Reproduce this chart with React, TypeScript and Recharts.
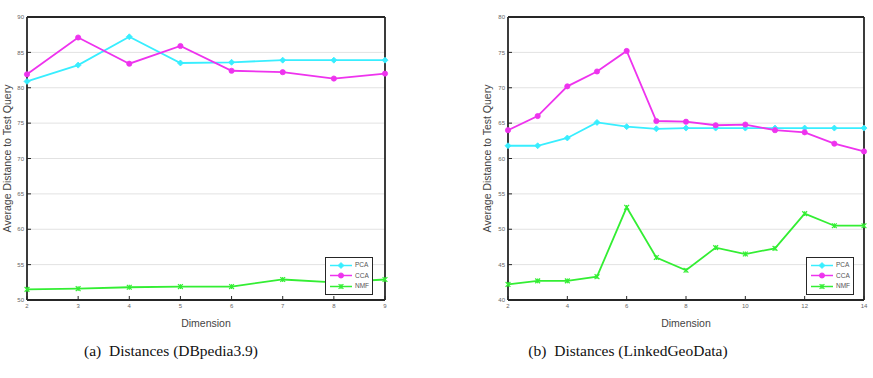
import { CartesianGrid, Legend, Line, LineChart, XAxis, YAxis } from "recharts";

const dimsA = [2, 3, 4, 5, 6, 7, 8, 9];
const pcaA = [80.9, 83.2, 87.2, 83.5, 83.6, 83.9, 83.9, 83.9];
const ccaA = [81.9, 87.1, 83.4, 85.9, 82.4, 82.2, 81.3, 82.0];
const nmfA = [51.5, 51.6, 51.8, 51.9, 51.9, 52.9, 52.5, 52.9];
const xTicksA = [2, 3, 4, 5, 6, 7, 8, 9];
const yTicksA = [50, 55, 60, 65, 70, 75, 80, 85, 90];

const dimsB = [2, 3, 4, 5, 6, 7, 8, 9, 10, 11, 12, 13, 14];
const pcaB = [61.8, 61.8, 62.9, 65.1, 64.5, 64.2, 64.3, 64.3, 64.3, 64.3, 64.3, 64.3, 64.3];
const ccaB = [64.0, 66.0, 70.2, 72.3, 75.2, 65.3, 65.2, 64.7, 64.8, 64.0, 63.7, 62.1, 61.0];
const nmfB = [42.2, 42.7, 42.7, 43.3, 53.1, 46.0, 44.2, 47.4, 46.5, 47.3, 52.2, 50.5, 50.5];
const xTicksB = [2, 4, 6, 8, 10, 12, 14];
const yTicksB = [40, 45, 50, 55, 60, 65, 70, 75, 80];

const seriesNames = ["PCA", "CCA", "NMF"];
const colors: Record<string, string> = { PCA: "#38eeff", CCA: "#ee33ee", NMF: "#33ee33" };

const AXIS = "#262626";
const SANS = "'Liberation Sans', Arial, sans-serif";
const TICK_FONT = { fill: "#666", fontSize: 6, fontFamily: SANS };

function Marker({ name, cx, cy }: { name: string; cx: number; cy: number }) {
  const c = colors[name];
  if (name === "PCA") {
    const r = 3;
    return <path d={`M${cx},${cy - r}L${cx + r},${cy}L${cx},${cy + r}L${cx - r},${cy}Z`} fill={c} stroke={c} strokeWidth={0.8} />;
  }
  if (name === "CCA") {
    return <circle cx={cx} cy={cy} r={2.6} fill={c} stroke={c} strokeWidth={0.8} />;
  }
  const r = 2.4;
  return (
    <g stroke={c} strokeWidth={1.2}>
      <line x1={cx - r} y1={cy - r} x2={cx + r} y2={cy + r} />
      <line x1={cx - r} y1={cy + r} x2={cx + r} y2={cy - r} />
      <line x1={cx} y1={cy - r} x2={cx} y2={cy + r} />
    </g>
  );
}

function LegendBox() {
  return (
    <div
      style={{
        border: `1.5px solid ${AXIS}`,
        background: "#fff",
        padding: "2px 3px",
        fontFamily: SANS,
        fontSize: 6.5,
        color: "#555",
        lineHeight: "10.5px",
      }}
    >
      {seriesNames.map((n) => (
        <div key={n} style={{ display: "flex", alignItems: "center" }}>
          <svg width={24} height={9} style={{ marginRight: 2 }}>
            <line x1={1} y1={4.5} x2={23} y2={4.5} stroke={colors[n]} strokeWidth={1.5} />
            <Marker name={n} cx={12} cy={4.5} />
          </svg>
          {n}
        </div>
      ))}
    </div>
  );
}

function YLabel(props: any) {
  const vb = props.viewBox;
  const x = props.labelX;
  const y = vb.y + vb.height / 2;
  return (
    <text
      x={x}
      y={y}
      transform={`rotate(-90 ${x} ${y})`}
      textAnchor="middle"
      dominantBaseline="central"
      fill="#444"
      fontSize={10.5}
      fontFamily={SANS}
    >
      Average Distance to Test Query
    </text>
  );
}

function XLabel(props: any) {
  const vb = props.viewBox;
  return (
    <text
      x={vb.x + vb.width / 2}
      y={323}
      textAnchor="middle"
      dominantBaseline="central"
      fill="#444"
      fontSize={10.5}
      fontFamily={SANS}
    >
      Dimension
    </text>
  );
}

function Panel({
  dims,
  pca,
  cca,
  nmf,
  xTicks,
  yTicks,
  width,
  yAxisWidth,
  rightMargin,
  labelX,
  legendLeft,
}: {
  dims: number[];
  pca: number[];
  cca: number[];
  nmf: number[];
  xTicks: number[];
  yTicks: number[];
  width: number;
  yAxisWidth: number;
  rightMargin: number;
  labelX: number;
  legendLeft: number;
}) {
  const data = dims.map((d, i) => ({ dim: d, PCA: pca[i], CCA: cca[i], NMF: nmf[i] }));
  const xDomain = [xTicks[0], xTicks[xTicks.length - 1]];
  const yDomain = [yTicks[0], yTicks[yTicks.length - 1]];
  const axisLine = { stroke: AXIS, strokeWidth: 1.8 };
  return (
    <LineChart width={width} height={330} data={data} margin={{ top: 16, right: rightMargin, bottom: 0, left: 0 }}>
      <CartesianGrid vertical={false} stroke="#e2e2e2" strokeWidth={1} />
      <XAxis
        dataKey="dim"
        type="number"
        domain={xDomain}
        ticks={xTicks}
        height={30}
        axisLine={axisLine}
        tickLine={{ stroke: AXIS }}
        tickSize={-4}
        tickMargin={8}
        tick={TICK_FONT}
        label={<XLabel />}
      />
      <XAxis
        xAxisId="top"
        orientation="top"
        dataKey="dim"
        type="number"
        domain={xDomain}
        ticks={xTicks}
        height={1}
        axisLine={axisLine}
        tickLine={{ stroke: AXIS }}
        tickSize={-4}
        tick={false}
      />
      <YAxis
        type="number"
        domain={yDomain}
        ticks={yTicks}
        width={yAxisWidth}
        axisLine={axisLine}
        tickLine={{ stroke: AXIS }}
        tickSize={-4}
        tickMargin={7}
        tick={TICK_FONT}
        label={<YLabel labelX={labelX} />}
      />
      <YAxis
        yAxisId="right"
        orientation="right"
        type="number"
        domain={yDomain}
        ticks={yTicks}
        width={1}
        axisLine={axisLine}
        tickLine={{ stroke: AXIS }}
        tickSize={-4}
        tick={false}
      />
      <Legend
        layout="vertical"
        align="center"
        verticalAlign="middle"
        content={<LegendBox />}
        wrapperStyle={{ left: legendLeft, top: 257, right: "auto", bottom: "auto", width: "auto" }}
      />
      {seriesNames.map((n) => (
        <Line
          key={n}
          dataKey={n}
          stroke={colors[n]}
          strokeWidth={1.8}
          isAnimationActive={false}
          dot={(p: any) => <Marker key={`${n}-${p.index}`} name={n} cx={p.cx} cy={p.cy} />}
          activeDot={false}
        />
      ))}
    </LineChart>
  );
}

const captionStyle: React.CSSProperties = {
  position: "absolute",
  top: 342,
  fontFamily: "'Liberation Serif', 'DejaVu Serif', serif",
  fontSize: 15.5,
  color: "#111",
  whiteSpace: "nowrap",
  transform: "translateX(-50%)",
};

export default function App() {
  return (
    <div style={{ position: "absolute", left: 0, top: 0, width: 873, height: 378, background: "#fff", overflow: "hidden" }}>
      <div style={{ position: "absolute", left: 0, top: 0 }}>
        <Panel
          dims={dimsA}
          pca={pcaA}
          cca={ccaA}
          nmf={nmfA}
          xTicks={xTicksA}
          yTicks={yTicksA}
          width={440}
          yAxisWidth={27}
          rightMargin={54}
          labelX={7}
          legendLeft={325}
        />
      </div>
      <div style={{ position: "absolute", left: 470, top: 0 }}>
        <Panel
          dims={dimsB}
          pca={pcaB}
          cca={ccaB}
          nmf={nmfB}
          xTicks={xTicksB}
          yTicks={yTicksB}
          width={403}
          yAxisWidth={38}
          rightMargin={8}
          labelX={17}
          legendLeft={336}
        />
      </div>
      <div style={{ ...captionStyle, left: 171 }}>(a)&nbsp; Distances (DBpedia3.9)</div>
      <div style={{ ...captionStyle, left: 628 }}>(b)&nbsp; Distances (LinkedGeoData)</div>
    </div>
  );
}
